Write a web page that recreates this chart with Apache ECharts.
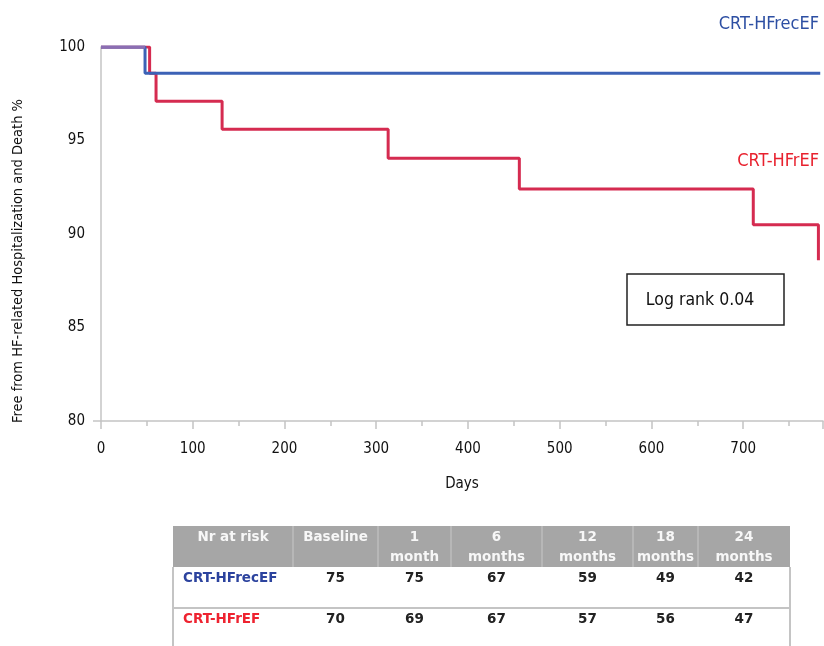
<!DOCTYPE html>
<html>
<head>
<meta charset="utf-8">
<script src="https://cdn.jsdelivr.net/npm/echarts@6/dist/echarts.min.js"></script>
<style>
  html, body { margin: 0; padding: 0; background: #ffffff; }
  #chart { width: 824px; height: 646px; }
</style>
</head>
<body>
<div id="chart"></div>
<script>
// Kaplan-Meier curves: [day, % free from event] at each step
const curveRecEF = [[0, 100], [48, 98.6], [784, 98.6]];
const curveREF = [[0, 100], [53, 98.6], [60, 97.1], [132, 95.6], [313, 94.05], [456, 92.4], [711, 90.5], [782, 88.6]];
// common stretch before the first event, where both curves coincide
const curveShared = [[0, 100], [48, 100]];

const groupNames = ['CRT-HFrecEF', 'CRT-HFrEF'];
const logRankText = 'Log rank 0.04';

// numbers at risk
const riskHeaders = ['Nr at risk', 'Baseline', '1\nmonth', '6\nmonths', '12\nmonths', '18\nmonths', '24\nmonths'];
const riskRecEF = [75, 75, 67, 59, 49, 42];
const riskREF = [70, 69, 67, 57, 56, 47];

const BLUE = '#3c62b6';
const RED = '#d52b50';
const NARROW = '"Liberation Sans Narrow", "DejaVu Sans Condensed", sans-serif';
const TABLE_FONT = '"DejaVu Sans", Verdana, sans-serif';

const chart = echarts.init(document.getElementById('chart'));

// table layout
const colEdges = [173, 293, 378, 451, 542, 633, 698, 790];
const tableTop = 526, headerBottom = 567, rowSep = 608, tableBottom = 646;
const rowCenters = [578, 619];

const graphics = [];

// header band
graphics.push({
  type: 'rect',
  shape: { x: colEdges[0], y: tableTop, width: colEdges[colEdges.length - 1] - colEdges[0], height: headerBottom - tableTop },
  style: { fill: '#a6a6a6' }
});
for (let i = 1; i < colEdges.length - 1; i++) {
  graphics.push({
    type: 'line',
    shape: { x1: colEdges[i], y1: tableTop, x2: colEdges[i], y2: headerBottom },
    style: { stroke: '#bdbdbd', lineWidth: 1.5 }
  });
}
riskHeaders.forEach((h, i) => {
  graphics.push({
    type: 'text',
    x: (colEdges[i] + colEdges[i + 1]) / 2,
    y: tableTop + 1,
    style: {
      text: h, textAlign: 'center', textVerticalAlign: 'top',
      font: 'bold 13.5px ' + TABLE_FONT, fill: '#f7f7f7', lineHeight: 20
    }
  });
});
// body borders
graphics.push({
  type: 'line',
  shape: { x1: colEdges[0], y1: rowSep, x2: colEdges[colEdges.length - 1], y2: rowSep },
  style: { stroke: '#c4c4c4', lineWidth: 2 }
});
graphics.push({
  type: 'line',
  shape: { x1: colEdges[0], y1: headerBottom, x2: colEdges[0], y2: tableBottom },
  style: { stroke: '#c4c4c4', lineWidth: 2 }
});
graphics.push({
  type: 'line',
  shape: { x1: colEdges[colEdges.length - 1], y1: headerBottom, x2: colEdges[colEdges.length - 1], y2: tableBottom },
  style: { stroke: '#c4c4c4', lineWidth: 2 }
});
// body rows
const rowColors = ['#2c439e', '#ee2330'];
[riskRecEF, riskREF].forEach((row, r) => {
  graphics.push({
    type: 'text', x: 183, y: rowCenters[r],
    style: {
      text: groupNames[r], textAlign: 'left', textVerticalAlign: 'middle',
      font: 'bold 13.5px ' + TABLE_FONT, fill: rowColors[r]
    }
  });
  row.forEach((v, c) => {
    graphics.push({
      type: 'text', x: (colEdges[c + 1] + colEdges[c + 2]) / 2, y: rowCenters[r],
      style: {
        text: String(v), textAlign: 'center', textVerticalAlign: 'middle',
        font: 'bold 13.5px ' + TABLE_FONT, fill: '#222222'
      }
    });
  });
});

// curve labels
graphics.push({
  type: 'text', x: 819, y: 24,
  style: { text: groupNames[0], textAlign: 'right', textVerticalAlign: 'middle', font: '18px ' + NARROW, fill: '#2d4fa3' }
});
graphics.push({
  type: 'text', x: 819, y: 161,
  style: { text: groupNames[1], textAlign: 'right', textVerticalAlign: 'middle', font: '18px ' + NARROW, fill: '#e8212e' }
});
// log-rank box
graphics.push({
  type: 'rect',
  shape: { x: 627, y: 274, width: 157, height: 51 },
  style: { fill: '#ffffff', stroke: '#222222', lineWidth: 1.5 }
});
graphics.push({
  type: 'text', x: 700, y: 300,
  style: { text: logRankText, textAlign: 'center', textVerticalAlign: 'middle', font: '17.5px ' + NARROW, fill: '#111111' }
});
// y-axis title
graphics.push({
  type: 'text', x: 18, y: 261, rotation: Math.PI / 2,
  style: {
    text: 'Free from HF-related Hospitalization and Death %',
    textAlign: 'center', textVerticalAlign: 'middle', font: '14.5px ' + NARROW, fill: '#111111'
  }
});
// x-axis baseline continues slightly left of the y axis
graphics.push({
  type: 'line',
  shape: { x1: 93, y1: 421, x2: 101, y2: 421 },
  style: { stroke: '#c4c4c4', lineWidth: 1.5 }
});

const option = {
  animation: false,
  backgroundColor: '#ffffff',
  grid: { left: 101, right: 1, top: 47, bottom: 225, containLabel: false },
  xAxis: {
    type: 'value', min: 0, max: 787, interval: 100,
    name: 'Days', nameLocation: 'middle', nameGap: 56,
    nameTextStyle: { fontFamily: NARROW, fontSize: 15, color: '#111111' },
    axisLine: { show: true, lineStyle: { color: '#c4c4c4', width: 1.5 } },
    axisTick: { show: true, length: 8, lineStyle: { color: '#c4c4c4', width: 1.5 } },
    minorTick: { show: true, splitNumber: 2, length: 5, lineStyle: { color: '#c4c4c4', width: 1.5 } },
    axisLabel: { margin: 21, fontFamily: NARROW, fontSize: 15, color: '#111111', showMaxLabel: false },
    splitLine: { show: false }
  },
  yAxis: {
    type: 'value', min: 80, max: 100, interval: 5,
    axisLine: { show: true, lineStyle: { color: '#c4c4c4', width: 1.5 } },
    axisTick: { show: false },
    axisLabel: { margin: 16, fontFamily: NARROW, fontSize: 15, color: '#111111' },
    splitLine: { show: false }
  },
  series: [
    {
      name: groupNames[1], type: 'line', step: 'end', data: curveREF,
      symbol: 'none', lineStyle: { color: RED, width: 3 }, z: 2
    },
    {
      name: groupNames[0], type: 'line', step: 'end', data: curveRecEF,
      symbol: 'none', lineStyle: { color: BLUE, width: 3 }, z: 3
    },
    {
      name: 'shared', type: 'line', data: curveShared,
      symbol: 'none', lineStyle: { color: '#8b6eb3', width: 3 }, z: 4
    }
  ],
  graphic: graphics
};

chart.setOption(option);
</script>
</body>
</html>
